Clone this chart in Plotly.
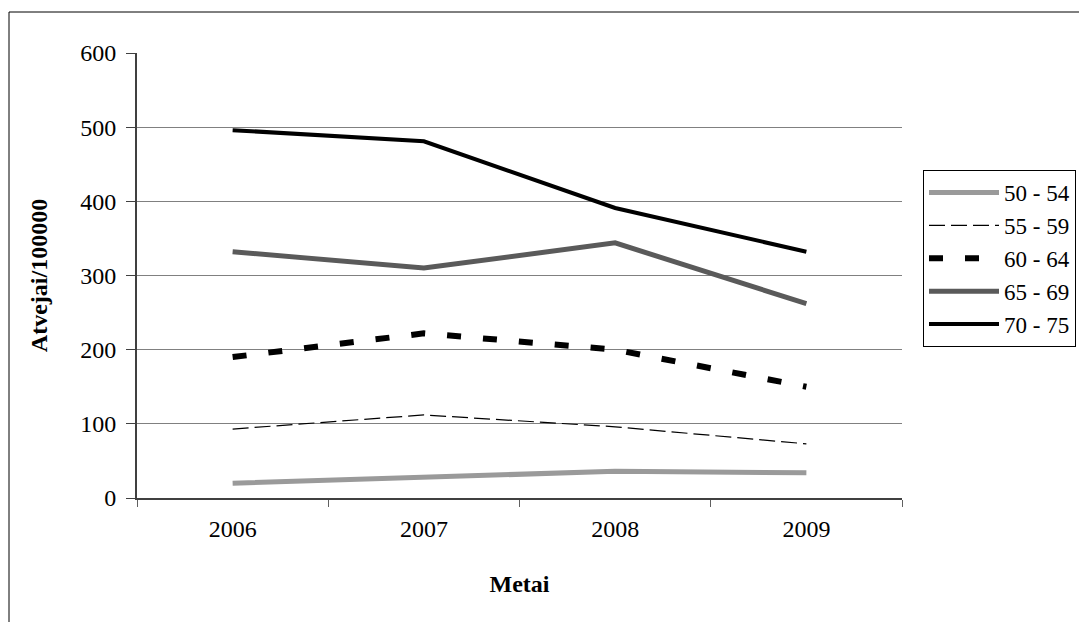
import plotly.graph_objects as go

years = ["2006", "2007", "2008", "2009"]
s_50_54 = [20, 28, 36, 34]
s_55_59 = [93, 112, 96, 73]
s_60_64 = [190, 222, 200, 150]
s_65_69 = [332, 310, 344, 262]
s_70_75 = [496, 481, 391, 332]

# page has an 8px body margin, so figure coords = page coords - 8
W, H = 1079, 614
L, R, T, B = 129, 894, 45, 490

fig = go.Figure()
series = [
    ("50 - 54", s_50_54, dict(color="#9a9a9a", width=5)),
    ("55 - 59", s_55_59, dict(color="black", width=1.2, dash="16px,6px")),
    ("60 - 64", s_60_64, dict(color="black", width=6, dash="14px,22px")),
    ("65 - 69", s_65_69, dict(color="#5a5a5a", width=5)),
    ("70 - 75", s_70_75, dict(color="black", width=4)),
]
for name, vals, line in series:
    fig.add_trace(go.Scatter(x=years, y=vals, mode="lines", name=name, line=line))

font = "Liberation Serif"
pw, ph = R - L, B - T


def px_x(x):
    return (x - L) / pw


def px_y(y):
    return (B - y) / ph


fig.update_layout(
    width=W, height=H,
    margin=dict(l=L, r=W - R, t=T, b=H - B, pad=0, autoexpand=False),
    paper_bgcolor="white", plot_bgcolor="white",
    font=dict(family=font, size=24, color="black"),
    showlegend=True,
    legend=dict(
        x=px_x(915), y=px_y(162),
        xanchor="left", yanchor="top",
        bordercolor="black", borderwidth=1,
        font=dict(family=font, size=23, color="black"),
        tracegroupgap=0, itemwidth=70,
    ),
    xaxis=dict(
        type="category", tickson="boundaries",
        showline=True, linecolor="#404040", linewidth=2,
        ticks="outside", ticklen=7, tickcolor="#606060",
        showgrid=False, zeroline=False,
        tickfont=dict(family=font, size=24),
        ticklabelstandoff=8,
        title=dict(text="<b>Metai</b>", font=dict(family=font, size=24), standoff=34),
        range=[-0.5, 3.5],
    ),
    yaxis=dict(
        range=[0, 600], dtick=100,
        showline=True, linecolor="#404040", linewidth=2,
        ticks="outside", ticklen=9, tickcolor="#404040",
        showgrid=True, gridcolor="#808080", gridwidth=1,
        zeroline=False,
        tickfont=dict(family=font, size=24),
        ticklabelstandoff=5,
        title=dict(text="<b>Atvejai/100000</b>", font=dict(family=font, size=24), standoff=26),
    ),
    shapes=[
        dict(type="rect", xref="paper", yref="paper",
             x0=px_x(1), x1=px_x(W + 10),
             y0=px_y(H + 10), y1=px_y(4),
             line=dict(color="black", width=1), fillcolor="rgba(0,0,0,0)", layer="below"),
    ],
)

fig.write_html("out.html")
